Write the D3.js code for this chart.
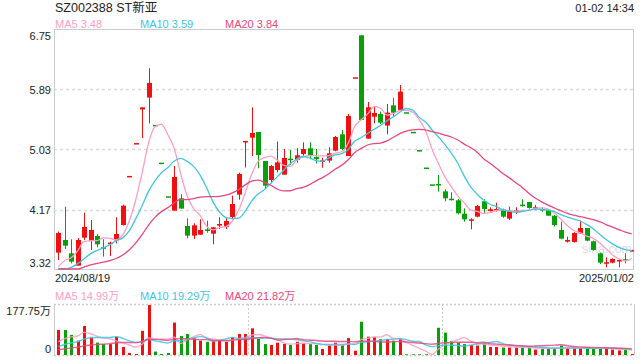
<!DOCTYPE html>
<html><head><meta charset="utf-8">
<script src="https://cdn.jsdelivr.net/npm/d3@7"></script>
<style>
body{margin:0;background:#fff;}
svg{display:block;font-family:Arial,"Liberation Sans","Noto Sans CJK SC",sans-serif;}
</style>
</head><body>
<svg id="c" width="640" height="360"></svg>
<script>
// ---------- data ----------
const title = "SZ002388 ST新亚";
const timeLabel = "01-02 14:34";
const dateLabels = ["2024/08/19", "2025/01/02"];
const priceTicks = [6.75, 5.89, 5.03, 4.17, 3.32];
const volumeTicks = [177.75, 0];
const priceLegend = [["MA5", "3.48"], ["MA10", "3.59"], ["MA20", "3.84"]];
const volumeLegend = [["MA5", "14.99万"], ["MA10", "19.29万"], ["MA20", "21.82万"]];
const maPeriods = [5, 10, 20];

const opens = [3.554,3.735,3.544,3.368,3.768,3.725,3.792,3.630,3.690,3.730,
  3.949,4.65,5.12,5.60,5.77,5.38,4.84,4.36,4.154,4.330,
  3.935,3.797,3.811,3.887,3.825,3.940,3.925,4.063,4.383,5.13,
  5.197,5.278,4.864,4.592,4.735,4.669,4.897,4.878,4.964,5.045,
  4.921,4.859,4.869,5.011,5.245,4.935,6.06,6.66,5.183,5.497,
  5.535,5.369,5.659,5.593,5.56,5.28,5.02,4.77,4.53,4.535,
  4.430,4.325,4.302,4.111,4.011,4.068,4.288,4.149,4.159,4.168,
  4.040,4.144,4.240,4.278,4.197,4.178,4.164,4.082,3.877,3.711,
  3.706,3.830,3.906,3.716,3.544,3.411,3.411,3.445,3.459,3.585];
const highs = [3.854,4.211,3.744,3.763,4.125,4.021,3.820,3.744,3.711,4.059,
  4.240,4.65,5.12,5.63,6.19,5.38,4.84,4.36,4.792,4.387,
  4.045,3.973,4.030,4.011,3.916,4.059,4.045,4.368,4.697,5.15,
  5.631,5.278,4.864,4.807,5.140,5.035,5.021,5.045,5.130,5.130,
  5.035,4.911,5.059,5.221,5.307,5.535,6.06,6.66,5.707,5.640,
  5.569,5.678,5.764,5.950,5.56,5.28,5.02,4.77,4.53,4.664,
  4.459,4.416,4.321,4.187,4.045,4.235,4.316,4.202,4.268,4.183,
  4.211,4.202,4.316,4.278,4.235,4.202,4.178,4.092,3.997,3.782,
  3.845,4.011,3.906,3.725,3.554,3.487,3.473,3.459,3.544,3.595];
const lows = [3.449,3.606,3.401,3.368,3.735,3.592,3.630,3.497,3.506,3.687,
  3.940,4.65,5.12,5.19,5.40,5.38,4.84,4.36,4.154,4.183,
  3.758,3.749,3.811,3.839,3.673,3.892,3.892,4.030,4.311,4.77,
  4.935,4.759,4.464,4.545,4.702,4.669,4.807,4.840,4.940,4.888,
  4.830,4.768,4.840,5.002,5.021,4.935,6.06,5.45,5.183,5.402,
  5.393,5.245,5.507,5.569,5.56,5.28,5.02,4.77,4.53,4.425,
  4.287,4.297,4.101,3.997,3.887,4.059,4.106,4.140,4.140,4.054,
  4.021,4.106,4.211,4.182,4.163,4.140,4.078,3.925,3.744,3.697,
  3.697,3.820,3.716,3.582,3.392,3.344,3.401,3.344,3.401,3.585];
const closes = [3.835,3.654,3.425,3.735,3.921,3.878,3.673,3.620,3.697,3.820,
  4.225,4.65,5.12,5.63,5.98,5.38,4.84,4.36,4.635,4.183,
  3.797,3.944,3.878,3.863,3.916,3.963,4.006,4.249,4.678,5.15,
  5.264,4.949,4.511,4.792,4.845,4.907,4.883,4.945,5.035,4.935,
  4.892,4.873,4.973,5.207,5.035,5.507,6.06,5.45,5.631,5.550,
  5.412,5.555,5.555,5.855,5.56,5.28,5.02,4.77,4.53,4.530,
  4.330,4.316,4.116,4.030,4.030,4.221,4.178,4.173,4.178,4.068,
  4.149,4.159,4.235,4.192,4.202,4.173,4.082,3.949,3.754,3.735,
  3.835,3.906,3.725,3.592,3.411,3.416,3.463,3.449,3.435,3.59];
// volume in 万
const volumes = [87,87,70,50,101,63,43,38,38,63,
  28,7,3.5,84,174,12,3.5,7,113,66,
  73,58,50,46,52,50,46,62,73,73,
  93,56,38,35,43,39,35,46,41,38,
  35,21,35,43,35,59,15,116,64,62,
  55,56,50,58,2.5,2.5,2.5,2.5,1,95,
  78,49,43,38,35,33,41,28,28,26,
  26,26,26,26,19,21,23,23,33,23,
  23,23,23,23,23,23,19,16,19,3.5];
// sessions just before the window (not drawn, only feed the moving averages at the left edge)
const prevCloses = [3.30,3.29,3.27,3.28,3.26,3.25,3.27,3.24,3.22,3.23,
  3.21,3.19,3.20,3.22,3.18,3.20,3.23,3.25,3.24];
const prevVolumes = [6,5,7,6,5,6,7,6,5,7,12,10,14,11,13,34,38,35,37];

// ---------- styles ----------
const UP = "#f01010", DOWN = "#08a008";
const MA_COLORS = ["#ff9ec4", "#3ec6e2", "#e9477c"];
const GRID = "#d9d9d9", BORDER = "#cccccc", TEXT = "#222";

const svg = d3.select("#c");
const L = 54, R = 634, PT = 29, PB = 269, VT = 304, VB = 355;

const N = closes.length;
const x = d3.scaleLinear().domain([0, N - 1]).range([58.3, 631.8]);
const y = d3.scaleLinear().domain([3.32, 6.75]).range([PB, PT]);
const yc = y.copy().clamp(true);
const yv = d3.scaleLinear().domain([0, 177.75]).range([VB, VT]);
const yvc = yv.copy().clamp(true);

function movingAvg(arr, prev, n) {
  const all = prev.concat(arr);
  return arr.map((_, i) => d3.mean(all.slice(i + prev.length - n + 1, i + prev.length + 1)));
}
const isUp = i => closes[i] > opens[i] ? true : closes[i] < opens[i] ? false :
  (i === 0 ? true : closes[i] >= closes[i - 1]);

// ---------- texts ----------
svg.append("text").attr("x", 55).attr("y", 12).attr("font-size", 12.5).attr("fill", TEXT).text(title);
svg.append("text").attr("x", R).attr("y", 12).attr("font-size", 11).attr("fill", TEXT)
  .attr("text-anchor", "end").text(timeLabel);
const legX = [55, 140, 225];
priceLegend.forEach((d, k) => svg.append("text").attr("x", legX[k]).attr("y", 28)
  .attr("font-size", 11).attr("fill", MA_COLORS[k]).text(d[0] + " " + d[1]));
volumeLegend.forEach((d, k) => svg.append("text").attr("x", legX[k]).attr("y", 299.5)
  .attr("font-size", 11).attr("fill", MA_COLORS[k]).text(d[0] + " " + d[1]));

// ---------- price panel frame + grid ----------
const defs = svg.append("defs");
defs.append("clipPath").attr("id", "pclip").append("rect")
  .attr("x", L).attr("y", PT).attr("width", R - L).attr("height", PB - PT);
defs.append("clipPath").attr("id", "vclip").append("rect")
  .attr("x", L).attr("y", VT - 2).attr("width", R - L).attr("height", VB - VT + 2);

svg.append("g").selectAll("line").data(priceTicks.slice(1, -1)).join("line")
  .attr("x1", L).attr("x2", R).attr("y1", d => Math.round(y(d)) + 0.5).attr("y2", d => Math.round(y(d)) + 0.5)
  .attr("stroke", GRID).attr("stroke-width", 1.5).attr("stroke-dasharray", "3,3");
svg.append("rect").attr("x", L + 0.5).attr("y", PT + 0.5).attr("width", R - L - 1).attr("height", PB - PT)
  .attr("fill", "none").attr("stroke", BORDER);

// watermark
svg.append("text").attr("x", 582).attr("y", 253).attr("font-size", 12.5).attr("fill", "#dcdcdc").text("sina.com");

// price axis labels
const yAxis = d3.axisLeft(y).tickValues(priceTicks).tickSize(0).tickPadding(3).tickFormat(d3.format(".2f"));
const ga = svg.append("g").attr("transform", `translate(${L},0)`).call(yAxis);
ga.select(".domain").remove();
ga.selectAll("text").attr("font-size", 11).attr("fill", TEXT).attr("font-family", "Arial,'Liberation Sans',sans-serif")
  .attr("dy", (d, i) => i === 0 ? "0.95em" : i === priceTicks.length - 1 ? "-0.25em" : "0.35em");

// ---------- candles ----------
const pc = svg.append("g").attr("clip-path", "url(#pclip)");
const idx = d3.range(N);
pc.selectAll("line.wick").data(idx).join("line").attr("class", "wick")
  .attr("x1", i => Math.round(x(i)) + 0.5).attr("x2", i => Math.round(x(i)) + 0.5)
  .attr("y1", i => y(highs[i])).attr("y2", i => y(lows[i]))
  .attr("stroke", i => isUp(i) ? UP : DOWN).attr("stroke-width", 1);
pc.selectAll("rect.body").data(idx).join("rect").attr("class", "body")
  .attr("x", i => Math.round(x(i)) - 2).attr("width", 5)
  .attr("y", i => Math.min(y(opens[i]), y(closes[i])))
  .attr("height", i => Math.max(1.5, Math.abs(y(opens[i]) - y(closes[i]))))
  .attr("fill", i => isUp(i) ? UP : DOWN);

// MA lines
const line = d3.line().x((d, i) => x(i)).y(d => yc(d)).curve(d3.curveMonotoneX);
maPeriods.forEach((n, k) => {
  svg.append("path").datum(movingAvg(closes, prevCloses, n)).attr("d", line)
    .attr("fill", "none").attr("stroke", MA_COLORS[k]).attr("stroke-width", 1.3);
});

// date labels
svg.append("text").attr("x", 55).attr("y", 282).attr("font-size", 11).attr("fill", TEXT).text(dateLabels[0]);
svg.append("text").attr("x", R).attr("y", 282).attr("font-size", 11).attr("fill", TEXT)
  .attr("text-anchor", "end").text(dateLabels[1]);

// ---------- volume panel ----------
[VT, VB].forEach(v => svg.append("line").attr("x1", L).attr("x2", R).attr("y1", v + 0.5).attr("y2", v + 0.5)
  .attr("stroke", BORDER).attr("stroke-width", 1.5).attr("stroke-dasharray", "2,2"));
[L, R].forEach(v => svg.append("line").attr("x1", v + 0.5).attr("x2", v + 0.5).attr("y1", VT).attr("y2", VB)
  .attr("stroke", BORDER));
[30, 60].forEach(k => svg.append("line")
  .attr("x1", Math.round((x(k - 1) + x(k)) / 2) + 0.5).attr("x2", Math.round((x(k - 1) + x(k)) / 2) + 0.5)
  .attr("y1", VT).attr("y2", VB).attr("stroke", BORDER).attr("stroke-dasharray", "2,2"));

const vAxis = d3.axisLeft(yv).tickValues(volumeTicks).tickSize(0).tickPadding(3)
  .tickFormat(d => d === 0 ? "0" : d3.format(".2f")(d) + "万");
const gv = svg.append("g").attr("transform", `translate(${L},0)`).call(vAxis);
gv.select(".domain").remove();
gv.selectAll("text").attr("font-size", 11).attr("fill", TEXT)
  .attr("font-family", "Arial,'Liberation Sans','Noto Sans CJK SC',sans-serif")
  .attr("dy", (d, i) => i === 0 ? "0.95em" : "-0.25em");

const vc = svg.append("g").attr("clip-path", "url(#vclip)");
vc.selectAll("rect").data(idx).join("rect")
  .attr("x", i => Math.round(x(i)) - 1).attr("width", 3)
  .attr("y", i => yv(volumes[i])).attr("height", i => Math.max(0.8, VB - yv(volumes[i])))
  .attr("fill", i => isUp(i) ? UP : DOWN);

const vline = d3.line().x((d, i) => x(i)).y(d => yvc(d)).curve(d3.curveMonotoneX);
maPeriods.forEach((n, k) => {
  vc.append("path").datum(movingAvg(volumes, prevVolumes, n)).attr("d", vline)
    .attr("fill", "none").attr("stroke", MA_COLORS[k]).attr("stroke-width", 1.4).attr("opacity", 0.85);
});
</script>
</body></html>
